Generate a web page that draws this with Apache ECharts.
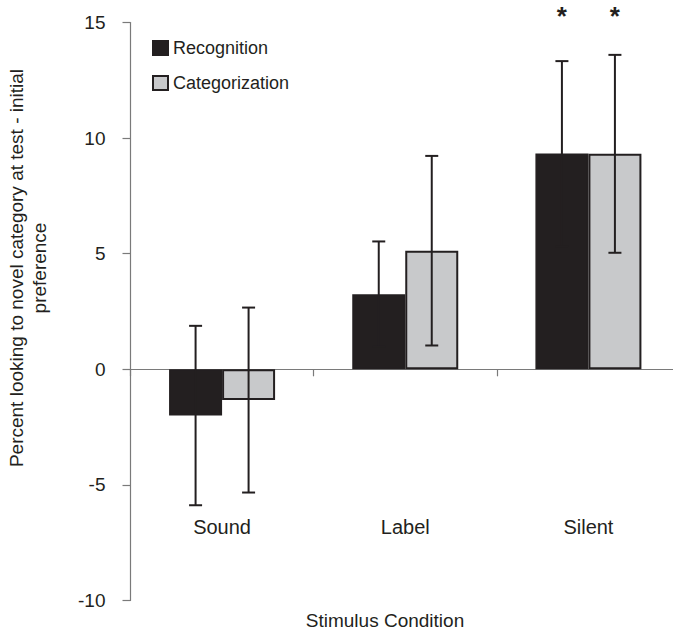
<!DOCTYPE html>
<html>
<head>
<meta charset="utf-8">
<script src="https://cdn.jsdelivr.net/npm/echarts@6/dist/echarts.min.js"></script>
<style>
html,body{margin:0;padding:0;background:#fff;}
#chart{width:673px;height:630px;}
</style>
</head>
<body>
<div id="chart"></div>
<script>
// ---- data ----
var categories = ['Sound', 'Label', 'Silent'];
var recognition = [-2.0, 3.25, 9.33];
var categorization = [-1.33, 5.13, 9.32];
var recognitionErr = [3.88, 2.28, 4.0];
var categorizationErr = [4.0, 4.1, 4.28];
var recognitionSig = [false, false, true];
var categorizationSig = [false, false, true];
var yTicks = [-10, -5, 0, 5, 10, 15];
var starLevel = 15.35;

// ---- style ----
var BAR_W = 53;
var INK = '#231f20';
var FONT = 'Liberation Sans, Arial, sans-serif';

function errData(vals, errs, sig, side) {
  return vals.map(function (v, i) { return [i, v, errs[i], side, sig[i] ? 1 : 0]; });
}

function renderErr(params, api) {
  var idx = api.value(0), v = api.value(1), e = api.value(2), side = api.value(3), sig = api.value(4);
  var top = api.coord([idx, v + e]);
  var bot = api.coord([idx, v - e]);
  var x = top[0] + side * BAR_W / 2;
  var cap = 6.5;
  var st = { stroke: INK, lineWidth: 2 };
  var children = [
    { type: 'line', shape: { x1: x, y1: top[1], x2: x, y2: bot[1] }, style: st },
    { type: 'line', shape: { x1: x - cap, y1: top[1], x2: x + cap, y2: top[1] }, style: st },
    { type: 'line', shape: { x1: x - cap, y1: bot[1], x2: x + cap, y2: bot[1] }, style: st }
  ];
  if (sig) {
    var s = api.coord([idx, starLevel]);
    children.push({ type: 'text', x: x, y: s[1] + 2, style: { text: '*', fill: INK, font: 'bold 26px ' + FONT, align: 'center', verticalAlign: 'middle' } });
  }
  return { type: 'group', children: children };
}

var chart = echarts.init(document.getElementById('chart'), null, { renderer: 'svg' });
chart.setOption({
  animation: false,
  backgroundColor: '#fff',
  grid: { left: 130.5, right: -7, top: 22.5, bottom: 29.5, containLabel: false, outerBoundsMode: 'none' },
  legend: {
    orient: 'vertical', left: 147, top: 34, icon: 'rect',
    itemWidth: 15, itemHeight: 14, itemGap: 17,
    textStyle: { fontFamily: FONT, fontSize: 18, color: INK },
    data: ['Recognition', 'Categorization']
  },
  xAxis: [{
    type: 'category', data: categories,
    axisLine: { onZero: true, lineStyle: { color: '#7a7a7a', width: 1.2 } },
    axisTick: { show: true, length: 7, lineStyle: { color: '#7a7a7a', width: 1.2 } },
    axisLabel: { show: false }
  }, {
    type: 'category', data: categories, position: 'bottom',
    axisLine: { show: false, onZero: false },
    axisTick: { show: false },
    axisLabel: { margin: -84, fontFamily: FONT, fontSize: 20, color: INK }
  }],
  yAxis: {
    type: 'value', min: yTicks[0], max: yTicks[yTicks.length - 1], interval: 5,
    splitLine: { show: false },
    axisLine: { show: true, lineStyle: { color: '#7a7a7a', width: 1.2 } },
    axisTick: { show: true, length: 8, lineStyle: { color: '#7a7a7a', width: 1.2 } },
    axisLabel: { margin: 25, fontFamily: FONT, fontSize: 19, color: INK }
  },
  graphic: [
    { type: 'text', x: 28, y: 268, rotation: Math.PI / 2,
      style: { text: 'Percent looking to novel category at test - initial\npreference', font: '19px ' + FONT, fill: INK, align: 'center', verticalAlign: 'middle', lineHeight: 23 } },
    { type: 'text', x: 385, y: 620,
      style: { text: 'Stimulus Condition', font: '19px ' + FONT, fill: INK, align: 'center', verticalAlign: 'middle' } }
  ],
  series: [
    { name: 'Recognition', type: 'bar', data: recognition, barWidth: BAR_W, barGap: '0%',
      itemStyle: { color: INK, borderColor: INK, borderWidth: 1.5 } },
    { name: 'Categorization', type: 'bar', data: categorization, barWidth: BAR_W, barGap: '0%',
      itemStyle: { color: '#c8c9cb', borderColor: INK, borderWidth: 2 } },
    { type: 'custom', name: 'errR', data: errData(recognition, recognitionErr, recognitionSig, -1),
      renderItem: renderErr, clip: false, z: 5, silent: true },
    { type: 'custom', name: 'errC', data: errData(categorization, categorizationErr, categorizationSig, 1),
      renderItem: renderErr, clip: false, z: 5, silent: true }
  ]
});
</script>
</body>
</html>
